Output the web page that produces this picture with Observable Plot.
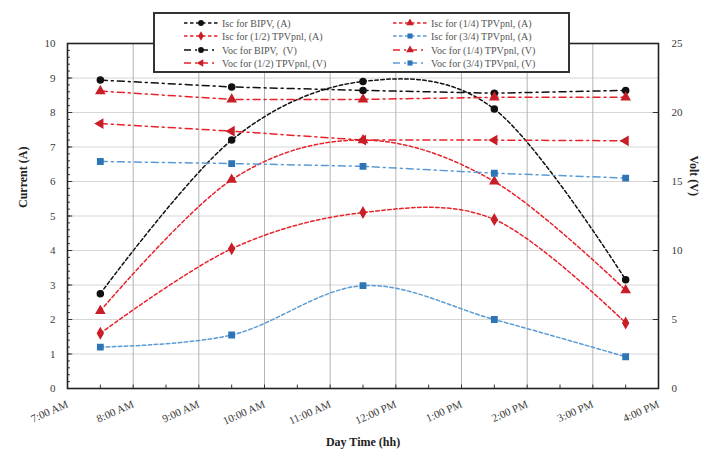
<!DOCTYPE html>
<html>
<head>
<meta charset="utf-8">
<script src="https://cdn.jsdelivr.net/npm/d3@7"></script>
<script src="https://cdn.jsdelivr.net/npm/@observablehq/plot@0.6"></script>
<style>
  body { margin: 0; background: #fff; }
  #wrap { position: relative; width: 715px; height: 454px; font-family: "Liberation Serif", "Times New Roman", serif; }
  #legend { position: absolute; left: 153px; top: 12px; width: 413px; height: 57px; border: 2px solid #333; background: #fff; box-sizing: content-box; }
  .item { position: absolute; height: 12px; display: flex; align-items: center; font-size: 10px; color: #555; white-space: pre; }
  .item svg { display: block; margin-right: 3px; }
</style>
</head>
<body>
<div id="wrap"><div id="legend"></div></div>
<script>
// ---- data ----
const hours = [7.5, 9.5, 11.5, 13.5, 15.5];           // measurement times (h)
const iscBIPV = [2.75, 7.2, 8.9, 8.1, 3.15];           // A
const isc14   = [2.25, 6.05, 7.2, 6.0, 2.85];          // A
const isc12   = [1.6, 4.05, 5.1, 4.9, 1.9];            // A
const isc34   = [1.2, 1.55, 2.98, 2.0, 0.92];          // A
const vocBIPV = [22.35, 21.85, 21.6, 21.4, 21.6];      // V
const voc14   = [21.55, 20.95, 20.95, 21.1, 21.1];     // V
const voc12   = [19.2, 18.65, 18.0, 18.0, 17.95];      // V
const voc34   = [16.45, 16.3, 16.1, 15.6, 15.25];      // V

const xTickHours  = [7, 8, 9, 10, 11, 12, 13, 14, 15, 16];
const xTickLabels = ["7:00 AM", "8:00 AM", "9:00 AM", "10:00 AM", "11:00 AM", "12:00 PM", "1:00 PM", "2:00 PM", "3:00 PM", "4:00 PM"];
const currentTicks = [0, 1, 2, 3, 4, 5, 6, 7, 8, 9, 10];
const voltTicks = [0, 5, 10, 15, 20, 25];
const voltMax = 25, currentMax = 10;
const k = currentMax / voltMax; // volt -> current-axis units

const seriesNames = [
  "Isc for BIPV, (A)", "Isc for (1/4) TPVpnl, (A)", "Isc for (1/2) TPVpnl, (A)", "Isc for (3/4) TPVpnl, (A)",
  "Voc for BIPV,  (V)", "Voc for (1/4) TPVpnl, (V)", "Voc for (1/2) TPVpnl, (V)", "Voc for (3/4) TPVpnl, (V)"
];
const seriesValues = [iscBIPV, isc14, isc12, isc34, vocBIPV, voc14, voc12, voc34];

// styles
const BLACK = "#111", RED = "#e8222a", REDM = "#c81e28", BLUE = "#5b9bd5", BLUEM = "#2e75b6";
const styles = [
  {kind: "I", line: BLACK, mark: BLACK, symbol: "circle", rot: 0},
  {kind: "I", line: RED, mark: REDM, symbol: "triangle", rot: 0},
  {kind: "I", line: RED, mark: REDM, symbol: "diamond", rot: 0},
  {kind: "I", line: BLUE, mark: BLUEM, symbol: "square", rot: 0},
  {kind: "V", line: BLACK, mark: BLACK, symbol: "circle", rot: 0},
  {kind: "V", line: RED, mark: REDM, symbol: "triangle", rot: 0},
  {kind: "V", line: RED, mark: REDM, symbol: "triangle", rot: -90},
  {kind: "V", line: BLUE, mark: BLUEM, symbol: "square", rot: 0}
];
const ISC_DASH = "3.5,2.5";
const VOC_DASH = "7,4,2,4";

const series = seriesNames.map((name, i) => ({
  name, ...styles[i],
  rows: hours.map((h, j) => ({h, y: styles[i].kind === "V" ? seriesValues[i][j] * k : seriesValues[i][j]}))
}));

// minor tick positions
const yMinor = d3.range(0, 10.0001, 0.2).map(v => +v.toFixed(1));
const xMinor = d3.range(7, 16.0001, 0.5);

const lineMarks = series.map(s => Plot.line(s.rows, {
  x: "h", y: "y", stroke: s.line, strokeWidth: 1.5,
  strokeDasharray: s.kind === "I" ? ISC_DASH : VOC_DASH,
  curve: s.kind === "I" ? "cardinal" : "linear"
}));
const dotMarks = series.map(s => Plot.dot(s.rows, {
  x: "h", y: "y", fill: s.mark, stroke: s.mark, symbol: () => s.symbol, r: 3, rotate: s.rot
}));

const chart = Plot.plot({
  width: 715, height: 454,
  marginLeft: 67, marginRight: 57, marginTop: 43, marginBottom: 66,
  x: {domain: [7, 16]},
  y: {domain: [0, 10]},
  symbol: {type: "identity"},
  style: {fontFamily: "Liberation Serif, Times New Roman, serif", fontSize: "11px", color: "#3a3a3a", background: "white", overflow: "visible"},
  marks: [
    Plot.ruleY(currentTicks.slice(1, -1), {stroke: "#d6d6d6", strokeWidth: 1}),
    Plot.ruleX(xTickHours.slice(1, -1), {stroke: "#ababab", strokeWidth: 0.9}),
    // inward ticks
    Plot.ruleY(yMinor, {x1: 7, x2: 7.045, stroke: "#333", strokeWidth: 1}),
    Plot.ruleY(currentTicks, {x1: 7, x2: 7.08, stroke: "#333", strokeWidth: 1}),
    Plot.ruleX(xMinor, {y1: 0, y2: 0.1, stroke: "#333", strokeWidth: 1}),
    Plot.ruleY(voltTicks.map(v => v * k), {x1: 15.92, x2: 16, stroke: "#333", strokeWidth: 1}),
    ...lineMarks,
    ...dotMarks,
    Plot.frame({stroke: "#222", strokeWidth: 1.6}),
    Plot.axisX({ticks: xTickHours, tickFormat: d => xTickLabels[xTickHours.indexOf(d)], tickRotate: -24, tickSize: 0, tickPadding: 15, label: null, fontSize: 11}),
    Plot.axisY({ticks: currentTicks, tickSize: 0, tickPadding: 12, label: null}),
    Plot.axisY({anchor: "right", ticks: voltTicks.map(v => v * k), tickFormat: d => voltTicks.find(v => Math.abs(v * k - d) < 1e-6), tickSize: 0, tickPadding: 13, label: null}),
    Plot.text(["Current (A)"], {frameAnchor: "left", text: d => d, rotate: -90, dx: -44, dy: -8, fontWeight: "bold", fontSize: 12, fill: "#222"}),
    Plot.text(["Volt (V)"], {frameAnchor: "right", text: d => d, rotate: 90, dx: 35, dy: -20, fontWeight: "bold", fontSize: 12, fill: "#222"}),
    Plot.text(["Day Time (hh)"], {frameAnchor: "bottom", text: d => d, dy: 57, fontWeight: "bold", fontSize: 12, fill: "#222"})
  ]
});
document.getElementById("wrap").prepend(chart);

// ---- legend (overlay) ----
const legend = d3.select("#legend");
const order = [[0, 1], [2, 3], [4, 5], [6, 7]]; // rows: left col, right col
const colX = [28, 237];
const rowY = [3, 16, 30, 43];
order.forEach((pair, r) => pair.forEach((si, c) => {
  const s = series[si];
  const it = legend.append("div").attr("class", "item").style("left", colX[c] + "px").style("top", rowY[r] + "px");
  const svg = it.append("svg").attr("width", 36).attr("height", 12);
  svg.append("line").attr("x1", 1).attr("x2", 35).attr("y1", 6).attr("y2", 6)
    .attr("stroke", s.line).attr("stroke-width", 1.5).attr("stroke-dasharray", s.kind === "I" ? ISC_DASH : VOC_DASH);
  const sym = {circle: d3.symbolCircle, triangle: d3.symbolTriangle, diamond: d3.symbolDiamond, square: d3.symbolSquare}[s.symbol];
  svg.append("path").attr("d", d3.symbol(sym, 26)()).attr("transform", `translate(18,6) rotate(${s.rot})`).attr("fill", s.mark);
  it.append("span").text(s.name);
}));
</script>
</body>
</html>
